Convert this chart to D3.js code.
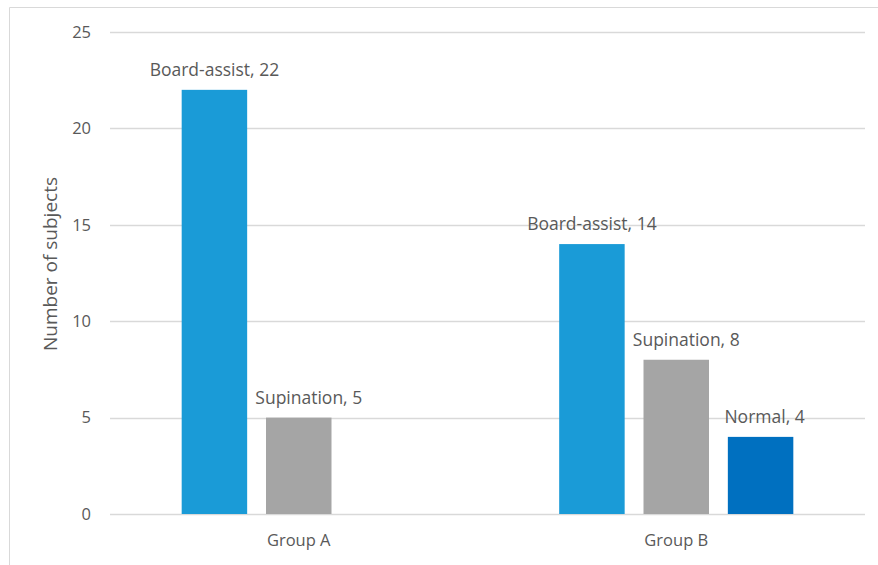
<!DOCTYPE html>
<html>
<head>
<meta charset="utf-8">
<script src="https://cdn.jsdelivr.net/npm/d3@7"></script>
<style>
  html, body { margin: 0; padding: 0; background: #fff; }
  svg { display: block; }
  text { font-family: "Open Sans", "Noto Sans", sans-serif; fill: #595959; }
</style>
</head>
<body>
<div id="chart"></div>
<script>
const groups = ["Group A", "Group B"];
const series = ["Board-assist", "Supination", "Normal"];
const boardAssist = [22, 14];
const supination = [5, 8];
const normal = [0, 4];
const yTicks = [0, 5, 10, 15, 20, 25];
const colors = ["#1a9bd7", "#a5a5a5", "#0070c0"];

const W = 878, H = 565;
const margin = { left: 110, right: 13, top: 32, bottom: 51 };
const svg = d3.select("#chart").append("svg").attr("width", W).attr("height", H);

// outer border (top and left)
svg.append("line").attr("x1", 9.5).attr("x2", W).attr("y1", 7.5).attr("y2", 7.5).attr("stroke", "#d9d9d9");
svg.append("line").attr("x1", 9.5).attr("x2", 9.5).attr("y1", 7.5).attr("y2", H).attr("stroke", "#d9d9d9");

const x0 = d3.scaleBand().domain(groups).range([margin.left, W - margin.right]);
const x1 = d3.scaleBand().domain(series).range([0, x0.bandwidth()]).paddingInner(0.2235).paddingOuter(0.85);
const y = d3.scaleLinear().domain([0, 25]).range([H - margin.bottom, margin.top]);

// gridlines
svg.append("g").selectAll("line").data(yTicks).join("line")
  .attr("x1", margin.left).attr("x2", W - margin.right)
  .attr("y1", d => Math.round(y(d)) + 0.5).attr("y2", d => Math.round(y(d)) + 0.5)
  .attr("stroke", "#d9d9d9").attr("stroke-width", 1.5);

// y axis labels
const yAxis = d3.axisLeft(y).tickValues(yTicks).tickSize(0).tickPadding(19);
const ya = svg.append("g").attr("transform", `translate(${margin.left},0)`).call(yAxis);
ya.select(".domain").remove();
ya.selectAll("text").style("font-size", "16.5px").style("font-family", null).attr("fill", "#595959");

// x axis labels
const xAxis = d3.axisBottom(x0).tickSize(0).tickPadding(20);
const xa = svg.append("g").attr("transform", `translate(0,${y(0)})`).call(xAxis);
xa.select(".domain").remove();
xa.selectAll("text").style("font-size", "16.5px").style("font-family", null).attr("fill", "#595959");

// y title
svg.append("text")
  .attr("transform", `translate(50,${(y(0) + y(25)) / 2 - 9}) rotate(-90)`)
  .attr("text-anchor", "middle").attr("dominant-baseline", "central")
  .style("font-size", "19px").text("Number of subjects");

const valuesBySeries = [boardAssist, supination, normal];
const rows = [];
groups.forEach((g, gi) => {
  series.forEach((s, si) => {
    rows.push({ group: g, series: s, value: valuesBySeries[si][gi], color: colors[si] });
  });
});
const bars = rows.filter(d => d.value > 0);

svg.append("g").selectAll("rect").data(bars).join("rect")
  .attr("x", d => x0(d.group) + x1(d.series))
  .attr("width", x1.bandwidth())
  .attr("y", d => y(d.value))
  .attr("height", d => y(0) - y(d.value))
  .attr("fill", d => d.color);

const labelDx = { "Board-assist": 0, "Supination": 10, "Normal": 4 };
svg.append("g").selectAll("text").data(bars).join("text")
  .attr("x", d => x0(d.group) + x1(d.series) + x1.bandwidth() / 2 + labelDx[d.series])
  .attr("y", d => y(d.value) - 21)
  .attr("text-anchor", "middle").attr("dominant-baseline", "central")
  .style("font-size", "17.5px")
  .text(d => `${d.series}, ${d.value}`);
</script>
</body>
</html>
